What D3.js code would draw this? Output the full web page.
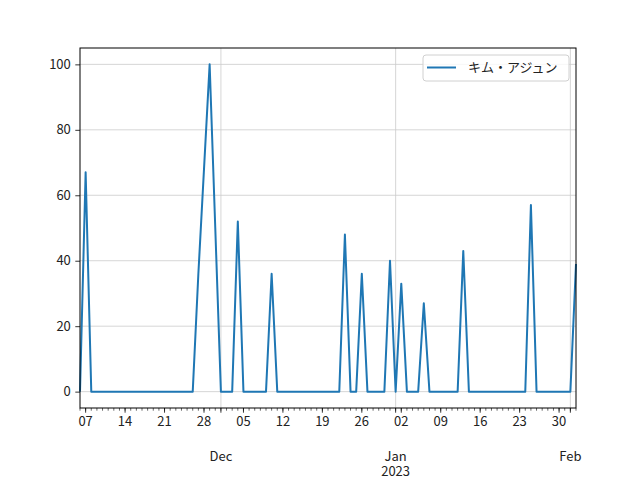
<!DOCTYPE html>
<html>
<head>
<meta charset="utf-8">
<script src="https://cdn.jsdelivr.net/npm/d3@7"></script>
<style>
  html, body { margin: 0; padding: 0; background: #fff; }
  svg { display: block; }
  text { font-family: "Noto Sans CJK JP", "Noto Sans", sans-serif; }
</style>
</head>
<body>
<svg id="chart" width="640" height="480"></svg>
<script>
// ---- data ----
const seriesName = "キム・アジュン";
const startDate = "2022-11-06";
const endDate = "2023-02-02";
// one value per day, Nov 6 2022 .. Feb 2 2023
const values = [
  0, 67, 0, 0, 0, 0, 0, 0, 0, 0,          // Nov 6 - Nov 15
  0, 0, 0, 0, 0, 0, 0, 0, 0, 0,           // Nov 16 - Nov 25
  0, 36, 68, 100, 50, 0, 0, 0, 52, 0,     // Nov 26 - Dec 5
  0, 0, 0, 0, 36, 0, 0, 0, 0, 0,          // Dec 6 - Dec 15
  0, 0, 0, 0, 0, 0, 0, 48, 0, 0,          // Dec 16 - Dec 25
  36, 0, 0, 0, 0, 40, 0, 33, 0, 0,        // Dec 26 - Jan 4
  0, 27, 0, 0, 0, 0, 0, 0, 43, 0,         // Jan 5 - Jan 14
  0, 0, 0, 0, 0, 0, 0, 0, 0, 0,           // Jan 15 - Jan 24
  57, 0, 0, 0, 0, 0, 0, 0, 39             // Jan 25 - Feb 2
];
const yTicks = [0, 20, 40, 60, 80, 100];
const yDomain = [-5, 105];

// ---- layout ----
const L = 80, R = 576, T = 48, B = 408;
const svg = d3.select("#chart");
const parse = d3.utcParse("%Y-%m-%d");
const d0 = parse(startDate), d1 = parse(endDate);
const dates = d3.utcDay.range(d0, d3.utcDay.offset(d1, 1));
const data = dates.map((d, i) => ({ date: d, value: values[i] }));

const x = d3.scaleUtc().domain([d0, d1]).range([L, R]);
const y = d3.scaleLinear().domain(yDomain).range([B, T]);

const gridColor = "#cccccc";
const fontSize = 13;

// grid
const monthTicks = d3.utcMonth.range(d3.utcDay.offset(d0, 1), d3.utcDay.offset(d1, 1));
svg.append("g").selectAll("line").data(yTicks).join("line")
  .attr("x1", L).attr("x2", R)
  .attr("y1", d => y(d)).attr("y2", d => y(d))
  .attr("stroke", gridColor).attr("stroke-width", 0.8);
svg.append("g").selectAll("line").data(monthTicks).join("line")
  .attr("x1", d => x(d)).attr("x2", d => x(d))
  .attr("y1", T).attr("y2", B)
  .attr("stroke", gridColor).attr("stroke-width", 0.8);

// line
const line = d3.line().x(d => x(d.date)).y(d => y(d.value));
svg.append("path").datum(data)
  .attr("d", line)
  .attr("fill", "none")
  .attr("stroke", "#1f77b4")
  .attr("stroke-width", 2)
  .attr("stroke-linejoin", "round");

// y axis
const yAxis = d3.axisLeft(y).tickValues(yTicks).tickSize(4.7).tickPadding(4.5).tickFormat(d3.format("d"));
const gy = svg.append("g").attr("transform", `translate(${L},0)`).call(yAxis);
gy.select(".domain").remove();
gy.selectAll("line").attr("stroke", "#000").attr("stroke-width", 0.8);
gy.selectAll("text").attr("font-size", fontSize).attr("fill", "#222")
  .attr("font-family", '"Noto Sans CJK JP", sans-serif');

// x axis: daily minor ticks
const dayTicks = d3.utcDay.range(d0, d3.utcDay.offset(d1, 1));
const gx = svg.append("g").attr("transform", `translate(0,${B})`);
gx.selectAll("line.minor").data(dayTicks).join("line")
  .attr("class", "minor")
  .attr("x1", d => x(d)).attr("x2", d => x(d))
  .attr("y1", 0).attr("y2", 2.7)
  .attr("stroke", "#000").attr("stroke-width", 0.6);
gx.selectAll("line.major").data(monthTicks).join("line")
  .attr("class", "major")
  .attr("x1", d => x(d)).attr("x2", d => x(d))
  .attr("y1", 0).attr("y2", 4.7)
  .attr("stroke", "#000").attr("stroke-width", 0.8);
// weekly labels (Mondays)
const weekTicks = d3.utcMonday.range(d0, d3.utcDay.offset(d1, 1));
gx.selectAll("line.week").data(weekTicks).join("line")
  .attr("class", "week")
  .attr("x1", d => x(d)).attr("x2", d => x(d))
  .attr("y1", 0).attr("y2", 4.7)
  .attr("stroke", "#000").attr("stroke-width", 0.8);
gx.selectAll("text.week").data(weekTicks).join("text")
  .attr("class", "week")
  .attr("x", d => x(d)).attr("y", 17.5)
  .attr("text-anchor", "middle")
  .attr("font-size", fontSize).attr("fill", "#222")
  .text(d => d3.utcFormat("%d")(d));
// month labels
gx.selectAll("text.month").data(monthTicks).join("text")
  .attr("class", "month")
  .attr("x", d => x(d)).attr("y", 52.5)
  .attr("text-anchor", "middle")
  .attr("font-size", fontSize).attr("fill", "#222")
  .text(d => d3.utcFormat("%b")(d));
gx.selectAll("text.year").data(monthTicks.filter(d => d.getUTCMonth() === 0)).join("text")
  .attr("class", "year")
  .attr("x", d => x(d)).attr("y", 67.5)
  .attr("text-anchor", "middle")
  .attr("font-size", fontSize).attr("fill", "#222")
  .text(d => d3.utcFormat("%Y")(d));

// frame
svg.append("rect").attr("x", L).attr("y", T).attr("width", R - L).attr("height", B - T)
  .attr("fill", "none").attr("stroke", "#000").attr("stroke-width", 1);

// legend
const lg = svg.append("g");
lg.append("rect").attr("x", 423).attr("y", 55).attr("width", 146).attr("height", 26)
  .attr("rx", 3).attr("fill", "#fff").attr("fill-opacity", 0.8)
  .attr("stroke", "#d0d0d0").attr("stroke-width", 1);
lg.append("line").attr("x1", 427).attr("x2", 456).attr("y1", 67.5).attr("y2", 67.5)
  .attr("stroke", "#1f77b4").attr("stroke-width", 2);
lg.append("text").attr("x", 468).attr("y", 72).attr("font-size", fontSize).attr("fill", "#222")
  .text(seriesName);
</script>
</body>
</html>
